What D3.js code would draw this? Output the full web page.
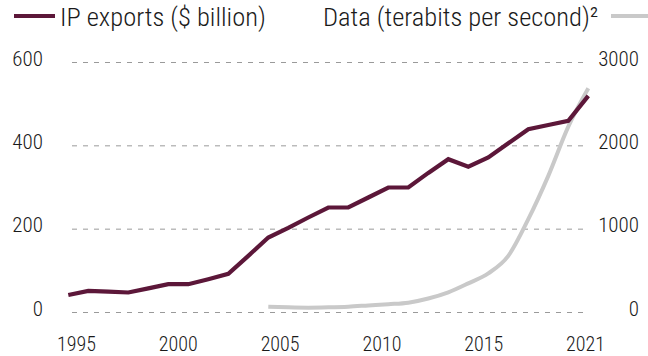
<!DOCTYPE html>
<html>
<head>
<meta charset="utf-8">
<script src="https://cdn.jsdelivr.net/npm/d3@7"></script>
<style>
  body { margin: 0; background: #fff; }
  text { font-family: "Liberation Sans Narrow", "Arial Narrow", "Roboto Condensed", sans-serif; fill: #1a1a1a; font-weight: 300; }
</style>
</head>
<body>
<svg id="chart" width="648" height="356"></svg>
<script>
// Years covered by the IP export series
const ipYears = [1995, 1996, 1997, 1998, 1999, 2000, 2001, 2002, 2003, 2004, 2005, 2006, 2007,
                 2008, 2009, 2010, 2011, 2012, 2013, 2014, 2015, 2016, 2017, 2018, 2019, 2020, 2021];
// IP exports, $ billion (left axis)
const ipExports = [42, 52, 50, 48, 58, 68, 68, 80, 93, 136, 180, 203, 228,
                   252, 252, 276, 300, 300, 335, 368, 350, 372, 406, 440, 450, 460, 520];

// Years covered by the data-flow series
const dataYears = [2005, 2006, 2007, 2008, 2009, 2010, 2011, 2012, 2013, 2014, 2015, 2016, 2017,
                   2018, 2019, 2020, 2021];
// Cross-border data, terabits per second (right axis)
const dataFlow = [70, 62, 58, 62, 70, 85, 100, 118, 168, 242, 350, 470, 680,
                  1120, 1640, 2230, 2690];

const xLabels = ["1995", "2000", "2005", "2010", "2015", "2021"];
const leftTicks = [0, 200, 400, 600];
const rightTicks = [0, 1000, 2000, 3000];

const legendIP = "IP exports ($ billion)";
const legendData = "Data (terabits per second)²";

const purple = "#5c1739";
const grey = "#c9c9c9";

const svg = d3.select("#chart");

const x = d3.scaleLinear().domain([1995, 2021]).range([68.3, 588.3]);
const yLeft = d3.scaleLinear().domain([0, 600]).range([312.5, 62.5]);
const yRight = d3.scaleLinear().domain([0, 3000]).range([312.5, 62.5]);
const xLab = d3.scalePoint().domain(xLabels).range([76, 585]);

// dashed gridlines
svg.append("g")
  .selectAll("line")
  .data(leftTicks)
  .join("line")
  .attr("x1", 72).attr("x2", 588)
  .attr("y1", d => yLeft(d)).attr("y2", d => yLeft(d))
  .attr("stroke", "#9a9a9a")
  .attr("stroke-width", 1)
  .attr("stroke-dasharray", "5,6");

// left axis
const gl = svg.append("g").attr("transform", "translate(43,0)")
  .call(d3.axisLeft(yLeft).tickValues(leftTicks).tickFormat(d3.format("d")).tickSize(0).tickPadding(0));
gl.select(".domain").remove();
gl.selectAll("text")
  .attr("font-size", 21)
  .attr("transform", "translate(0,-4)");

// right axis
const gr = svg.append("g").attr("transform", "translate(639,0)")
  .call(d3.axisRight(yRight).tickValues(rightTicks).tickFormat(d3.format("d")).tickSize(0).tickPadding(0));
gr.select(".domain").remove();
gr.selectAll("text")
  .attr("font-size", 21)
  .attr("text-anchor", "end")
  .attr("x", 0)
  .attr("transform", "translate(0,-4)");

// bottom axis labels
const gb = svg.append("g").attr("transform", "translate(0,351)")
  .call(d3.axisBottom(xLab).tickSize(0).tickPadding(0));
gb.select(".domain").remove();
gb.selectAll("text")
  .attr("font-size", 20)
  .attr("dy", 0)
  .attr("y", 0);
svg.selectAll(".tick line").remove();
svg.selectAll("g").attr("font-family", null);

// data flow line
svg.append("path")
  .datum(dataYears.map((yr, i) => [yr, dataFlow[i]]))
  .attr("fill", "none")
  .attr("stroke", grey)
  .attr("stroke-width", 4)
  .attr("d", d3.line().x(d => x(d[0])).y(d => yRight(d[1])).curve(d3.curveMonotoneX));

// IP exports line
svg.append("path")
  .datum(ipYears.map((yr, i) => [yr, ipExports[i]]))
  .attr("fill", "none")
  .attr("stroke", purple)
  .attr("stroke-width", 4.2)
  .attr("stroke-linejoin", "miter")
  .attr("d", d3.line().x(d => x(d[0])).y(d => yLeft(d[1])));

// legend
const lg = svg.append("g");
lg.append("line").attr("x1", 14).attr("x2", 55).attr("y1", 16).attr("y2", 16)
  .attr("stroke", purple).attr("stroke-width", 4);
lg.append("text").attr("x", 60).attr("y", 26).attr("font-size", 26.5).text(legendIP);
lg.append("text").attr("x", 323).attr("y", 26).attr("font-size", 26.5).text(legendData);
lg.append("line").attr("x1", 611).attr("x2", 648).attr("y1", 16).attr("y2", 16)
  .attr("stroke", grey).attr("stroke-width", 4);
</script>
</body>
</html>
